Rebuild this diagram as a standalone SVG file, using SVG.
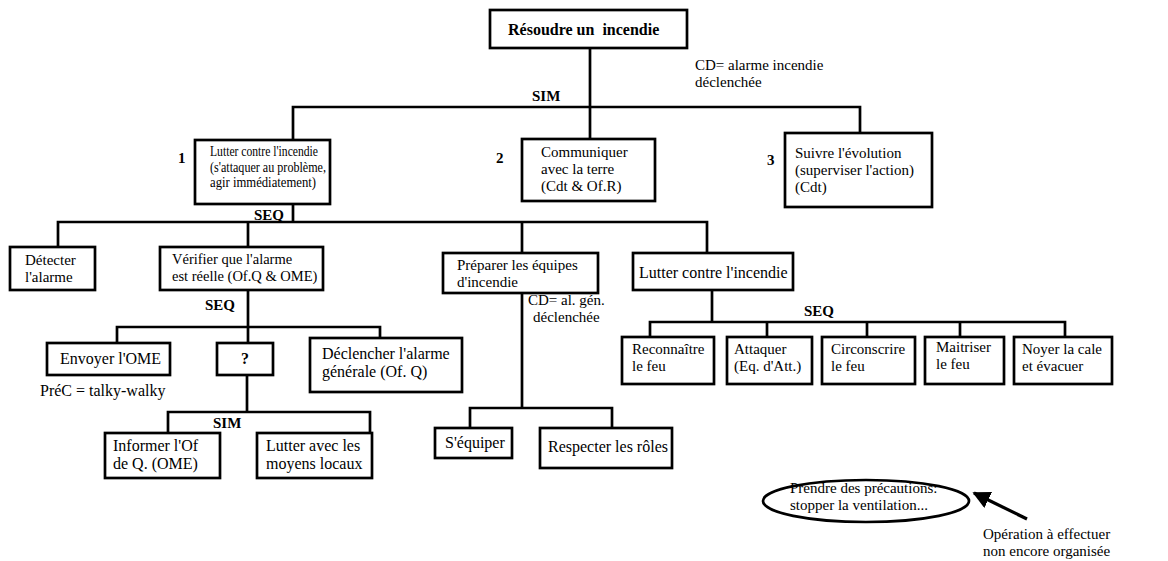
<svg xmlns="http://www.w3.org/2000/svg" width="1168" height="561" viewBox="0 0 1168 561">
<style>
.bx{fill:#fff;stroke:#000;stroke-width:2.7}
.t{font-family:"Liberation Serif","Times New Roman",serif;font-size:15px;fill:#000}
.l{font-size:16px}
.b{font-weight:bold}
.c{stroke:#000;stroke-width:2.7;fill:none;stroke-linecap:square}
</style>
<defs>
<marker id="ah" viewBox="0 0 10 10" refX="9" refY="5" markerWidth="5.5" markerHeight="5.5" orient="auto">
<path d="M0,0 L10,5 L0,10 z" fill="#000"/>
</marker>
</defs>
<rect width="1168" height="561" fill="#fff"/>
<g id="connectors">
<path class="c" d="M590,48 V107 M293,107 H860 M293,107 V140 M590,107 V139 M860,107 V133"/>
<path class="c" d="M293,204 V222 M58,222 H707 M58,222 V247 M248,222 V247 M522,222 V253 M707,222 V253"/>
<path class="c" d="M248,290 V327 M117,327 H380 M117,327 V343 M248,327 V343 M380,327 V338"/>
<path class="c" d="M247,375 V412 M168,412 H370 M168,412 V433 M370,412 V433"/>
<path class="c" d="M522,293 V408 M470,408 H612 M470,408 V428 M612,408 V428"/>
<path class="c" d="M712,290 V322 M650,322 H1065 M650,322 V337 M767,322 V337 M867,322 V337 M960,322 V337 M1065,322 V337"/>
<line x1="1027" y1="519" x2="974" y2="493" stroke="#000" stroke-width="3.2" marker-end="url(#ah)"/>
</g>
<g id="labels">
<text class="t" x="695" y="70">CD= alarme incendie</text>
<text class="t" x="695" y="87">déclenchée</text>
<text class="t b" x="532" y="101">SIM</text>
<text class="t b" x="178" y="163">1</text>
<text class="t b" x="496" y="163">2</text>
<text class="t b" x="767" y="165">3</text>
<text class="t b" x="254" y="220">SEQ</text>
<text class="t b" x="205" y="310">SEQ</text>
<text class="t l" x="40" y="396">PréC = talky-walky</text>
<text class="t b" x="213" y="428">SIM</text>
<text class="t" x="528" y="305">CD= al. gén.</text>
<text class="t" x="533" y="322">déclenchée</text>
<text class="t b" x="804" y="316">SEQ</text>
<text class="t" x="983" y="539">Opération à effectuer</text>
<text class="t" x="983" y="556">non encore organisée</text>
</g>
<g id="n-root">
<rect class="bx" x="490" y="10" width="197" height="38"/>
<text class="t l b" x="508" y="35" xml:space="preserve">Résoudre un  incendie</text>
</g>
<g id="n-lutter">
<rect class="bx" x="195" y="140" width="135" height="64"/>
<text class="t" style="font-size:14px" x="210" y="156" textLength="108" lengthAdjust="spacingAndGlyphs">Lutter contre l'incendie</text>
<text class="t" style="font-size:14px" x="210" y="171.5" textLength="116" lengthAdjust="spacingAndGlyphs">(s'attaquer au problème,</text>
<text class="t" style="font-size:14px" x="210" y="187" textLength="106" lengthAdjust="spacingAndGlyphs">agir immédiatement)</text>
</g>
<g id="n-communiquer">
<rect class="bx" x="522" y="139" width="133" height="62"/>
<text class="t" x="541" y="157">Communiquer</text>
<text class="t" x="541" y="174">avec la terre</text>
<text class="t" x="541" y="191">(Cdt &amp; Of.R)</text>
</g>
<g id="n-suivre">
<rect class="bx" x="785" y="133" width="147" height="74"/>
<text class="t" x="795" y="158">Suivre l'évolution</text>
<text class="t" x="795" y="175">(superviser l'action)</text>
<text class="t" x="795" y="192">(Cdt)</text>
</g>
<g id="n-detecter">
<rect class="bx" x="10" y="247" width="85" height="43"/>
<text class="t" x="25" y="265">Détecter</text>
<text class="t" x="25" y="282">l'alarme</text>
</g>
<g id="n-verifier">
<rect class="bx" x="160" y="247" width="163" height="43"/>
<text class="t" style="font-size:14.5px" x="172" y="264">Vérifier que l'alarme</text>
<text class="t" style="font-size:14.5px" x="172" y="281">est réelle (Of.Q &amp; OME)</text>
</g>
<g id="n-envoyer">
<rect class="bx" x="47" y="343" width="123" height="32"/>
<text class="t l" x="60" y="364">Envoyer l'OME</text>
</g>
<g id="n-question">
<rect class="bx" x="217" y="343" width="56" height="32"/>
<text class="t l b" x="245" y="364" text-anchor="middle">?</text>
</g>
<g id="n-declencher">
<rect class="bx" x="310" y="338" width="152" height="54"/>
<text class="t l" x="322" y="359">Déclencher l'alarme</text>
<text class="t l" x="322" y="377">générale (Of. Q)</text>
</g>
<g id="n-informer">
<rect class="bx" x="105" y="433" width="115" height="45"/>
<text class="t l" x="113" y="451">Informer l'Of</text>
<text class="t l" x="113" y="469">de Q. (OME)</text>
</g>
<g id="n-lutteravec">
<rect class="bx" x="257" y="433" width="115" height="45"/>
<text class="t l" x="266" y="451">Lutter avec les</text>
<text class="t l" x="266" y="469">moyens locaux</text>
</g>
<g id="n-preparer">
<rect class="bx" x="443" y="253" width="155" height="40"/>
<text class="t" x="457" y="270">Préparer les équipes</text>
<text class="t" x="457" y="287">d'incendie</text>
</g>
<g id="n-equiper">
<rect class="bx" x="435" y="428" width="77" height="30"/>
<text class="t l" x="445" y="448">S'équiper</text>
</g>
<g id="n-respecter">
<rect class="bx" x="540" y="428" width="132" height="40"/>
<text class="t l" x="548" y="452">Respecter les rôles</text>
</g>
<g id="n-lutter2">
<rect class="bx" x="633" y="253" width="160" height="37"/>
<text class="t l" x="639" y="278">Lutter contre l'incendie</text>
</g>
<g id="n-reconnaitre">
<rect class="bx" x="622" y="337" width="92" height="47"/>
<text class="t" x="632" y="354">Reconnaître</text>
<text class="t" x="632" y="371">le feu</text>
</g>
<g id="n-attaquer">
<rect class="bx" x="727" y="337" width="85" height="47"/>
<text class="t" x="734" y="354">Attaquer</text>
<text class="t" x="734" y="371">(Eq. d'Att.)</text>
</g>
<g id="n-circonscrire">
<rect class="bx" x="822" y="337" width="93" height="47"/>
<text class="t" x="831" y="354">Circonscrire</text>
<text class="t" x="831" y="371">le feu</text>
</g>
<g id="n-maitriser">
<rect class="bx" x="925" y="337" width="79" height="47"/>
<text class="t" x="936" y="352">Maitriser</text>
<text class="t" x="936" y="369">le feu</text>
</g>
<g id="n-noyer">
<rect class="bx" x="1014" y="337" width="98" height="47"/>
<text class="t" x="1022" y="354">Noyer la cale</text>
<text class="t" x="1022" y="371">et évacuer</text>
</g>
<g id="n-precautions">
<ellipse cx="866" cy="501" rx="103" ry="21" fill="#fff" stroke="#000" stroke-width="2.7"/>
<text class="t" x="790" y="493">Prendre des précautions:</text>
<text class="t" x="790" y="510">stopper la ventilation...</text>
</g>
</svg>
